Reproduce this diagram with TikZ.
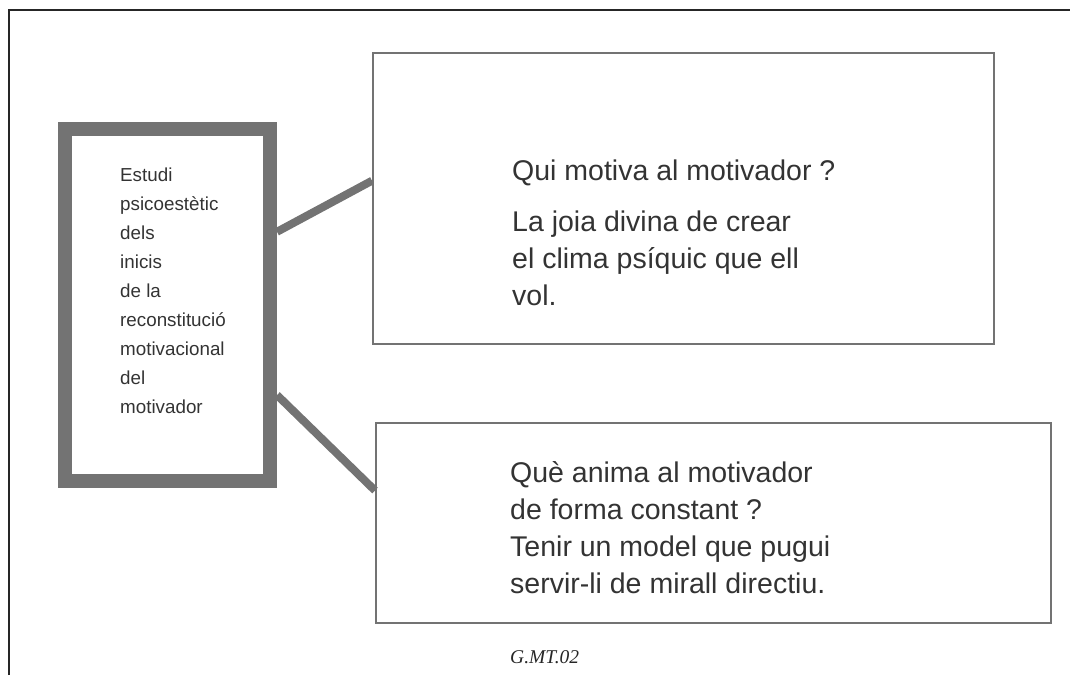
\documentclass[tikz,border=0pt]{standalone}
\usepackage{fontspec}
\setmainfont{Liberation Sans}
\newfontfamily\seriffont{Liberation Serif}
\usetikzlibrary{calc}
\begin{document}
\begin{tikzpicture}[x=1pt,y=-1pt,
  frameline/.style={line width=2.2pt, draw=black!85},
  leftbox/.style={draw=black!55, line width=14pt, minimum width=205pt, minimum height=352pt, inner sep=0pt, outer sep=7pt, anchor=north west},
  ansbox/.style={draw=black!55, line width=1.5pt, inner sep=0pt, anchor=north west},
  conn/.style={draw=black!55, line width=8pt},
  bigtext/.style={font=\fontsize{28.5}{37}\selectfont, text=black!80, align=left, anchor=north west, inner sep=0pt},
  smalltext/.style={font=\fontsize{18.8}{29}\selectfont, text=black!80, align=left, anchor=north west, inner sep=0pt},
  labeltext/.style={font=\seriffont\itshape\fontsize{19.5}{21}\selectfont, text=black!85, anchor=west, inner sep=0pt}
]
\useasboundingbox (0,0) rectangle (1070,675);
\coordinate (fbl) at (9,675);
\coordinate (ftl) at (9,10);
\coordinate (ftr) at (1070,10);
\draw[frameline] (fbl) -- (ftl) -- (ftr);

\node[ansbox, minimum width=621pt, minimum height=291pt] (b1) at (372,52) {};
\node[ansbox, minimum width=675pt, minimum height=200pt] (b2) at (375,422) {};
\node[leftbox] (lb) at (58,122) {};

\draw[conn] ($(lb.north east)!0.30!(lb.south east)$) -- ($(b1.north west)!0.44!(b1.south west)$);
\draw[conn] ($(lb.north east)!0.746!(lb.south east)$) -- ($(b2.north west)!0.34!(b2.south west)$);

\node[smalltext] (lt) at (120,168) {Estudi\\psicoestètic\\dels\\inicis\\de la\\reconstitució\\motivacional\\del\\motivador};

\node[bigtext] (q1) at (512,160) {Qui motiva al motivador ?};
\node[bigtext] (a1) at (512,211) {La joia divina de crear\\el clima psíquic que ell\\vol.};

\node[bigtext] (q2) at (510,461) {Què anima al motivador\\de forma constant ?};
\node[bigtext] (a2) at (510,536) {Tenir un model que pugui\\servir-li de mirall directiu.};

\node[labeltext] (lab) at (510,657) {G.MT.02};
\end{tikzpicture}
\end{document}
